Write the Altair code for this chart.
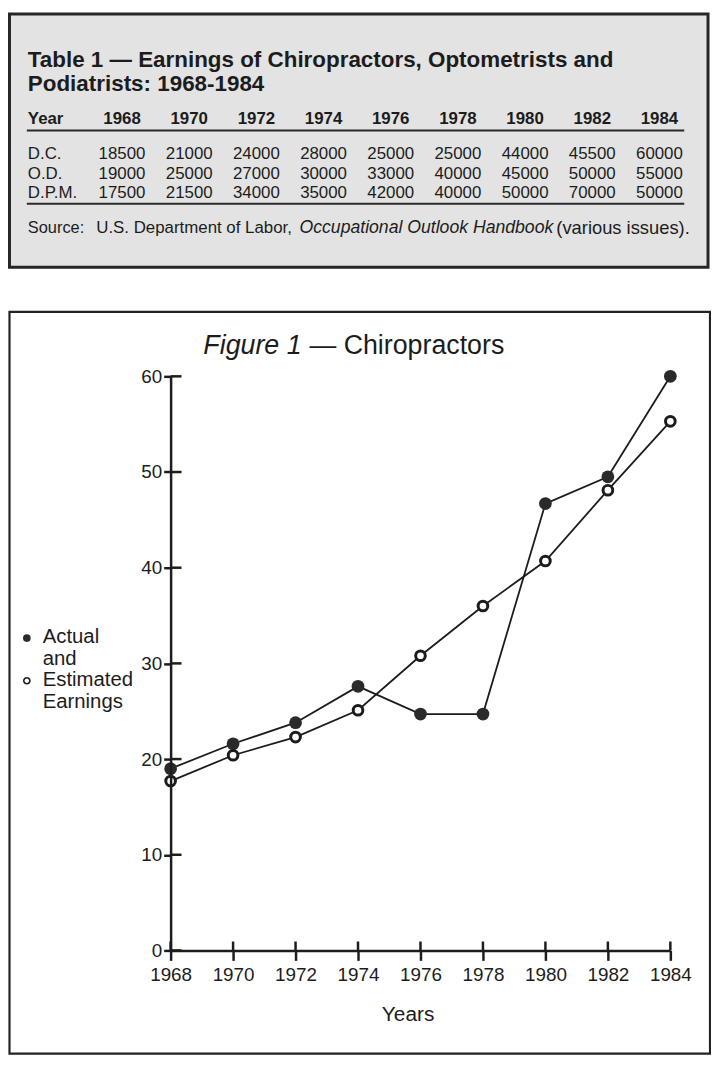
import altair as alt
import pandas as pd

# ---------------- data ----------------
years = [1968, 1970, 1972, 1974, 1976, 1978, 1980, 1982, 1984]
actual = [19.0, 21.6, 23.8, 27.6, 24.7, 24.7, 46.7, 49.5, 60.0]
estimated = [17.7, 20.4, 22.3, 25.1, 30.8, 36.0, 40.7, 48.1, 55.3]
y_ticks = [0, 10, 20, 30, 40, 50, 60]

table_years = ["1968", "1970", "1972", "1974", "1976", "1978", "1980", "1982", "1984"]
row_labels = ["D.C.", "O.D.", "D.P.M."]
dc = ["18500", "21000", "24000", "28000", "25000", "25000", "44000", "45500", "60000"]
od = ["19000", "25000", "27000", "30000", "33000", "40000", "45000", "50000", "55000"]
dpm = ["17500", "21500", "34000", "35000", "42000", "40000", "50000", "70000", "50000"]

table_title_1 = "Table 1 — Earnings of Chiropractors, Optometrists and"
table_title_2 = "Podiatrists: 1968-1984"
source_parts = ["Source:", "U.S. Department of Labor,", "Occupational Outlook Handbook", "(various issues)."]
fig_title_italic = "Figure 1"
fig_title_rest = "— Chiropractors"
legend_lines = ["Actual", "and", "Estimated", "Earnings"]
x_title = "Years"

# ---------------- layout ----------------
FONT = "Liberation Sans"
INK = "#1c1c1c"
W, H = 504, 579
OX, OY = 172, 375  # page position of the plot origin


def rx(px):
    return px - OX


def ry(py):
    return py - OY


one = pd.DataFrame({"k": [0]})

series_df = pd.DataFrame({
    "year": years * 2,
    "value": actual + estimated,
    "series": ["Actual"] * len(years) + ["Estimated"] * len(years),
})

x_enc = alt.X(
    "year:Q",
    scale=alt.Scale(domain=[1968, 1984], nice=False, zero=False),
    axis=alt.Axis(values=years, format="d", title=x_title, tickSize=10, labelPadding=5,
                  labelFlush=False, labelOverlap=False, labelFontSize=19, labelFont=FONT,
                  labelColor=INK,
                  titleX=rx(411), titleY=1019 - 954, titleBaseline="middle", titleAlign="center",
                  titleFontSize=21, titleFont=FONT, titleFontWeight="normal", titleColor=INK,
                  zindex=1),
)
y_enc = alt.Y(
    "value:Q",
    scale=alt.Scale(domain=[0, 60], nice=False, zero=True),
    axis=alt.Axis(values=y_ticks, title=None, tickSize=7, labelPadding=2, labelFlush=False,
                  labelOverlap=False, labelFontSize=19, labelFont=FONT, labelColor=INK, zindex=1),
)

lines = alt.Chart(series_df).mark_line(color=INK, strokeWidth=1.8).encode(
    x=x_enc, y=y_enc, detail="series:N")

pts_actual = alt.Chart(series_df).transform_filter(alt.datum.series == "Actual").mark_point(
    filled=True, shape="circle", size=165, color="#2a2a2a", opacity=1).encode(x=x_enc, y=y_enc)

pts_est = alt.Chart(series_df).transform_filter(alt.datum.series == "Estimated").mark_point(
    filled=True, shape="circle", size=95, fill="white", stroke="#1c1c1c", strokeWidth=3,
    opacity=1).encode(x=x_enc, y=y_enc)

ytick_df = pd.DataFrame({"value": y_ticks})
ytick_in = alt.Chart(ytick_df).mark_rule(color=INK, strokeWidth=2.5).encode(
    y=y_enc, x=alt.value(0), x2=alt.value(11))

xtick_df = pd.DataFrame({"year": years})
xtick_in = alt.Chart(xtick_df).mark_rule(color=INK, strokeWidth=2.5).encode(
    x=x_enc, y=alt.value(H - 9), y2=alt.value(H))


def txt(text, px, py, size, weight="normal", style="normal", align="left", baseline="alphabetic"):
    return alt.Chart(one).mark_text(
        text=text, fontSize=size, fontWeight=weight, fontStyle=style, align=align,
        baseline=baseline, font=FONT, color=INK).encode(x=alt.value(rx(px)), y=alt.value(ry(py)))


# figure box and decorations
fig_box = alt.Chart(one).mark_rect(fillOpacity=0, stroke="#222", strokeWidth=2.2).encode(
    x=alt.value(rx(9.5)), x2=alt.value(rx(716)), y=alt.value(ry(310)), y2=alt.value(ry(1058)))

fig_title = alt.layer(
    txt(fig_title_italic, 205, 352, 27, style="italic"),
    txt(fig_title_rest, 312, 352, 27),
)

legend_y = [638, 659.7, 681.4, 703]
legend_text = alt.layer(*[txt(t, 43, yy, 20.5, baseline="middle")
                          for t, yy in zip(legend_lines, legend_y)])
legend_filled = alt.Chart(one).mark_point(filled=True, shape="circle", size=60, color="#2a2a2a",
                                          opacity=1).encode(x=alt.value(rx(27)), y=alt.value(ry(639)))
legend_open = alt.Chart(one).mark_point(filled=True, shape="circle", size=38, fill="white",
                                        stroke="#1c1c1c", strokeWidth=1.6, opacity=1).encode(
    x=alt.value(rx(27)), y=alt.value(ry(682)))

main = alt.layer(fig_box, fig_title, legend_text, legend_filled, legend_open,
                 lines, ytick_in, xtick_in, pts_actual, pts_est)

# ---------------- table ----------------
tab_box = alt.Chart(one).mark_rect(fill="#e3e3e3", stroke="#262626", strokeWidth=3).encode(
    x=alt.value(rx(9.5)), x2=alt.value(rx(714)), y=alt.value(ry(9.5)), y2=alt.value(ry(265)))

col_scale = alt.Scale(domain=[0, 8], range=[rx(123), rx(665)])
row_scale = alt.Scale(domain=[0, 2], range=[ry(151), ry(190)])

header_df = pd.DataFrame({"col": list(range(len(table_years))), "txt": table_years})
header = alt.Chart(header_df).mark_text(font=FONT, fontSize=17, fontWeight="bold", color=INK,
                                        align="center", baseline="alphabetic").encode(
    x=alt.X("col:Q", scale=col_scale, axis=None), y=alt.value(ry(121)), text="txt:N")

cells = []
for r, vals in enumerate([dc, od, dpm]):
    for c, v in enumerate(vals):
        cells.append({"row": r, "col": c, "txt": v})
cells_df = pd.DataFrame(cells)
cell_text = alt.Chart(cells_df).mark_text(font=FONT, fontSize=17, color=INK, align="center",
                                          baseline="middle").encode(
    x=alt.X("col:Q", scale=col_scale, axis=None),
    y=alt.Y("row:Q", scale=row_scale, axis=None),
    text="txt:N")

rows_df = pd.DataFrame({"row": list(range(len(row_labels))), "txt": row_labels})
row_text = alt.Chart(rows_df).mark_text(font=FONT, fontSize=17, color=INK, align="left",
                                        baseline="middle").encode(
    x=alt.value(rx(28)), y=alt.Y("row:Q", scale=row_scale, axis=None), text="txt:N")

rule_top = alt.Chart(one).mark_rule(color="#2a2a2a", strokeWidth=2).encode(
    x=alt.value(rx(27)), x2=alt.value(rx(690)), y=alt.value(ry(127)))
rule_bot = alt.Chart(one).mark_rule(color="#2a2a2a", strokeWidth=2).encode(
    x=alt.value(rx(27)), x2=alt.value(rx(690)), y=alt.value(ry(201)))

table = alt.layer(
    tab_box,
    txt(table_title_1, 28, 63, 22.6, weight="bold"),
    txt(table_title_2, 28, 87, 22.6, weight="bold"),
    txt("Year", 28, 121, 17, weight="bold"),
    header, rule_top, row_text, cell_text, rule_bot,
    txt(source_parts[0], 28, 225, 16.5, baseline="middle"),
    txt(source_parts[1], 97, 225, 17, baseline="middle"),
    txt(source_parts[2], 302, 225, 17.8, style="italic", baseline="middle"),
    txt(source_parts[3], 561, 225, 18.5, baseline="middle"),
)

chart = alt.layer(main, table).resolve_scale(x="independent", y="independent").properties(
    width=W, height=H,
    autosize=alt.AutoSizeParams(type="none"),
    padding={"left": 164, "top": 367, "right": 41, "bottom": 106},
    background="white",
).configure_view(stroke=None).configure_axis(
    domainColor=INK, domainWidth=2.5, tickColor=INK, tickWidth=2.5, grid=False,
)

chart.save("out.html", embed_options={"renderer": "svg", "actions": False})
